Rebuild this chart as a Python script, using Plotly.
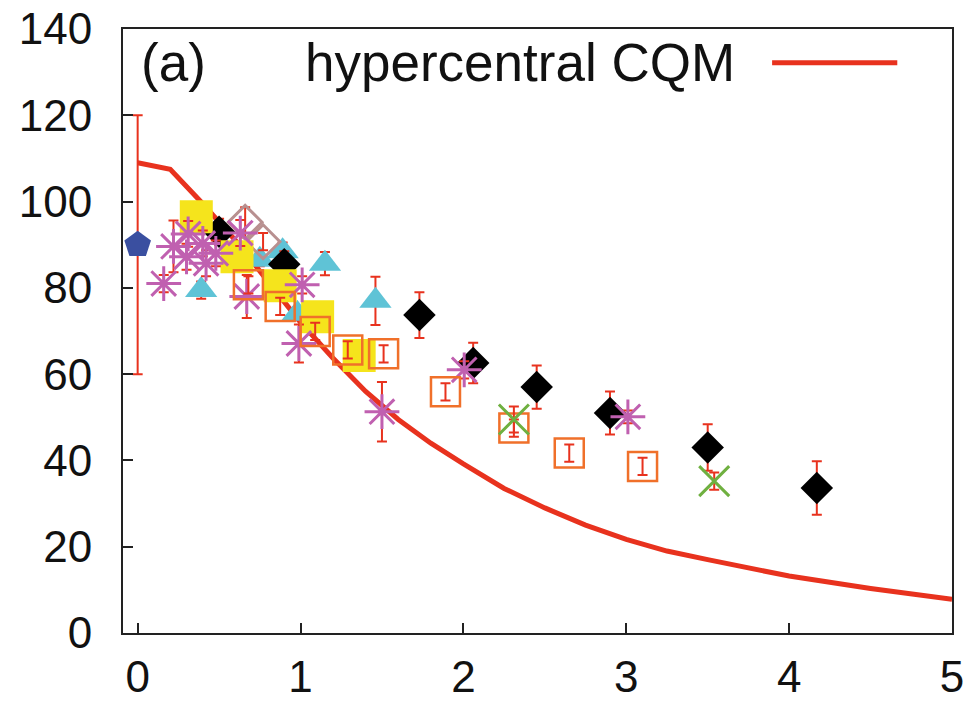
import plotly.graph_objects as go

# ---- data ----
curve_x = [0, 0.2, 0.4, 0.6, 0.8, 1.0, 1.2, 1.4, 1.6, 1.8, 2.0, 2.25, 2.5, 2.75, 3.0, 3.25, 3.5, 3.75, 4.0, 4.5, 5.0]
curve_y = [109, 107.5, 99.5, 91, 81.5, 72, 63.7, 56, 49.5, 44, 39.2, 33.5, 29, 25, 21.7, 19, 17, 15, 13.2, 10.3, 7.8]

pent_x = [0.0]
pent_y = [90]
pent_e = [30]

yel_x = [0.36, 0.61, 0.875, 1.105, 1.36]
yel_y = [96.5, 87.2, 80.5, 73.3, 64.3]

blk_x = [0.5, 0.9, 1.73, 2.06, 2.45, 2.90, 3.50, 4.17]
blk_y = [93, 85.5, 73.7, 62.6, 57, 51, 43, 33.6]
blk_e = [3, 3, 5.3, 4.7, 5, 5, 5.4, 6.2]

cyan_x = [0.39, 0.75, 0.89, 0.98, 1.15, 1.46]
cyan_y = [79.5, 86.5, 88.5, 74, 85.6, 77]
cyan_e = [2, 1.5, 2, 1.5, 2.7, 5.6]

star_x = [0.16, 0.22, 0.30, 0.31, 0.40, 0.42, 0.48, 0.63, 0.67, 1.01, 0.99, 1.50, 2.005, 3.01]
star_y = [81, 89.6, 87.2, 92.5, 90.3, 85.7, 88, 92.7, 78, 80.7, 67.1, 51.3, 61, 50.1]
star_e = [2, 6, 3, 3, 3, 3, 3, 3, 5, 2, 4.4, 6.9, 2, 1.5]

osq_x = [0.68, 0.875, 1.09, 1.29, 1.51, 1.89, 2.31, 2.65, 3.10]
osq_y = [80.7, 75.7, 69.9, 65.6, 64.7, 55.9, 47.5, 41.7, 38.6]
osq_e = [2, 2, 2, 2, 2, 2, 2, 2, 2]

grn_x = [2.31, 3.54]
grn_y = [49.5, 35.2]
grn_e = [3, 2]

rosy_x = [0.66, 0.77]
rosy_y = [95.2, 90.7]
rosy_e = [3.5, 2]

x_ticks = [0, 1, 2, 3, 4, 5]
y_ticks = [0, 20, 40, 60, 80, 100, 120, 140]

RED = "#e8321e"
FONT = "Liberation Sans, Arial, Helvetica, sans-serif"


def err(vals):
    return dict(type="data", array=vals, visible=True, color=RED, thickness=2, width=5)


fig = go.Figure()

fig.add_trace(go.Scatter(x=curve_x, y=curve_y, mode="lines",
                         line=dict(color=RED, width=5), showlegend=False))

fig.add_trace(go.Scatter(x=cyan_x, y=cyan_y, mode="markers", error_y=err(cyan_e),
                         marker=dict(symbol="triangle-up", size=28, color="#5fc3d6", line=dict(width=0)),
                         showlegend=False))

fig.add_trace(go.Scatter(x=blk_x, y=blk_y, mode="markers", error_y=err(blk_e),
                         marker=dict(symbol="diamond", size=25, color="#000000", line=dict(width=0)),
                         showlegend=False))

fig.add_trace(go.Scatter(x=rosy_x, y=rosy_y, mode="markers", error_y=err(rosy_e),
                         marker=dict(symbol="diamond-open", size=26, color="#b89090", line=dict(width=3, color="#b89090")),
                         showlegend=False))

fig.add_trace(go.Scatter(x=yel_x, y=yel_y, mode="markers",
                         marker=dict(symbol="square", size=33, color="#f5e41c", line=dict(width=0)),
                         showlegend=False))

fig.add_trace(go.Scatter(x=star_x, y=star_y, mode="markers", error_y=err(star_e),
                         marker=dict(symbol="asterisk-open", size=29, color="#c060b0", line=dict(width=3, color="#c060b0")),
                         showlegend=False))

fig.add_trace(go.Scatter(x=osq_x, y=osq_y, mode="markers", error_y=err(osq_e),
                         marker=dict(symbol="square-open", size=29, color="#f0702a", line=dict(width=2.5, color="#f0702a")),
                         showlegend=False))

fig.add_trace(go.Scatter(x=grn_x, y=grn_y, mode="markers", error_y=err(grn_e),
                         marker=dict(symbol="x-thin-open", size=30, color="#6fb040", line=dict(width=3, color="#6fb040")),
                         showlegend=False))

fig.add_trace(go.Scatter(x=pent_x, y=pent_y, mode="markers", error_y=err(pent_e),
                         marker=dict(symbol="pentagon", size=28, color="#3a4fa0", line=dict(width=0)),
                         showlegend=False))

# legend-like text
fig.add_annotation(x=0.019, y=0.944, xref="paper", yref="paper", text="(a)", showarrow=False,
                   xanchor="left", yanchor="middle", font=dict(family=FONT, size=53, color="#111"))
fig.add_annotation(x=0.7407, y=0.944, xref="paper", yref="paper", text="hypercentral CQM", showarrow=False,
                   xanchor="right", yanchor="middle", font=dict(family=FONT, size=53, color="#111"))
fig.add_shape(type="line", xref="paper", yref="paper", x0=0.783, x1=0.934, y0=0.944, y1=0.944,
              line=dict(color=RED, width=5))

axis_common = dict(showline=True, linecolor="#222", linewidth=2, mirror=True,
                   ticks="inside", ticklen=10, tickwidth=2, tickcolor="#222",
                   showgrid=False, zeroline=False, automargin=False,
                   tickfont=dict(family=FONT, size=44, color="#111"))

fig.update_xaxes(range=[-0.09, 5.0], tickvals=x_ticks, ticktext=[str(v) for v in x_ticks],
                 ticklabelstandoff=4, **axis_common)
fig.update_yaxes(range=[0, 140], tickvals=y_ticks, ticktext=[str(v) for v in y_ticks],
                 ticklabelstandoff=20, **axis_common)

fig.update_layout(width=977, height=701, margin=dict(l=123, r=25, t=29, b=68),
                  plot_bgcolor="white", paper_bgcolor="white", showlegend=False)

# remove the default 8px page margin so the figure fills the window exactly
fig.write_html("out.html", config={"displayModeBar": False},
               post_script="document.body.style.margin='0';document.body.style.overflow='hidden';")
